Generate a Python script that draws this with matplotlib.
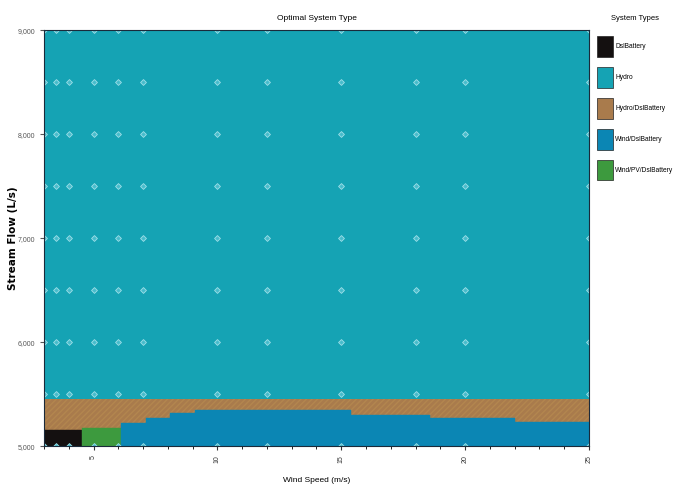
import matplotlib
matplotlib.use("Agg")
import matplotlib.pyplot as plt
from matplotlib.patches import Patch
from matplotlib.ticker import MultipleLocator, FuncFormatter

# ---- data ----
system_types = ["DslBattery", "Hydro", "Hydro/DslBattery", "Wind/DslBattery", "Wind/PV/DslBattery"]
type_colors = {"DslBattery": "#141010", "Hydro": "#15a3b4", "Hydro/DslBattery": "#a97b4c",
               "Wind/DslBattery": "#0b86b4", "Wind/PV/DslBattery": "#3d9a3e"}

wind_min, wind_max = 3, 25
flow_min, flow_max = 5000, 9000

# Hydro / Hydro+Dsl boundary (stream flow, L/s)
hydro_dsl_top = 5455

# lower regions: segment edges along wind speed, top of each segment, and its system type
lower_edges = [3, 4.55, 6.1, 7.1, 8.1, 9.1, 15.4, 18.6, 22.0, 25]
lower_tops = [5155, 5170, 5220, 5270, 5315, 5345, 5300, 5270, 5230]
lower_types = ["DslBattery", "Wind/PV/DslBattery", "Wind/DslBattery", "Wind/DslBattery",
               "Wind/DslBattery", "Wind/DslBattery", "Wind/DslBattery", "Wind/DslBattery",
               "Wind/DslBattery"]

# sensitivity points
sens_wind = [3, 3.5, 4, 5, 6, 7, 10, 12, 15, 18, 20, 25]
sens_flow = [5000, 5500, 6000, 6500, 7000, 7500, 8000, 8500, 9000]

x_ticks = [5, 10, 15, 20, 25]
y_ticks = [5000, 6000, 7000, 8000, 9000]

# ---- plot ----
narrow = ["Liberation Sans", "DejaVu Sans"]
fig = plt.figure(figsize=(6.77, 4.86), dpi=100)
ax = fig.add_axes([0.065, 0.082, 0.805, 0.856])

ax.fill_between([wind_min, wind_max], flow_min, flow_max, color=type_colors["Hydro"], lw=0)
ax.fill_between([wind_min, wind_max], flow_min, hydro_dsl_top,
                facecolor=type_colors["Hydro/DslBattery"], edgecolor="#b3864f", hatch="//////", lw=0)
for i, top in enumerate(lower_tops):
    c = type_colors[lower_types[i]]
    ax.fill_between([lower_edges[i], lower_edges[i + 1]], flow_min, top,
                    facecolor=c, edgecolor=c, lw=0.3)

for w in sens_wind:
    for f in sens_flow:
        ax.plot(w, f, marker="D", ms=3, mfc="#47bccc", mec="#9fdfe8", mew=0.6, ls="none")

ax.set_xlim(wind_min, wind_max)
ax.set_ylim(flow_min, flow_max)
ax.set_xticks(x_ticks)
ax.xaxis.set_minor_locator(MultipleLocator(1))
ax.set_yticks(y_ticks)
ax.yaxis.set_major_formatter(FuncFormatter(lambda v, p: f"{int(v):,}"))
ax.tick_params(axis="x", labelsize=5, rotation=90, length=3, colors="#333333")
ax.tick_params(axis="x", which="minor", length=2)
ax.tick_params(axis="y", labelsize=5, length=3, colors="#555555")
for lab in ax.get_xticklabels() + ax.get_yticklabels():
    lab.set_family(narrow)
for s in ax.spines.values():
    s.set_color("#1a2a3a")
    s.set_linewidth(0.8)

ax.set_title("Optimal System Type", fontsize=6, family=narrow, pad=7)
ax.set_xlabel("Wind Speed (m/s)", fontsize=6, family=narrow, labelpad=10)
ax.set_ylabel("Stream Flow (L/s)", fontsize=7.5, fontweight="bold", family="DejaVu Sans", labelpad=2)
ax.yaxis.set_label_coords(-0.048, 0.5)

handles = [Patch(facecolor=type_colors[t], edgecolor="#222222", lw=0.5) for t in system_types]
fig.text(0.938, 0.962, "System Types", ha="center", va="center", fontsize=5.5, family=narrow)
leg = fig.legend(handles, system_types, loc="upper left", bbox_to_anchor=(0.882, 0.925),
                 frameon=False, handlelength=2.4, handleheight=4.3,
                 labelspacing=1.6, handletextpad=0.35, borderaxespad=0, borderpad=0,
                 prop={"family": narrow, "size": 4.8})

fig.savefig("out.png", dpi=100)
